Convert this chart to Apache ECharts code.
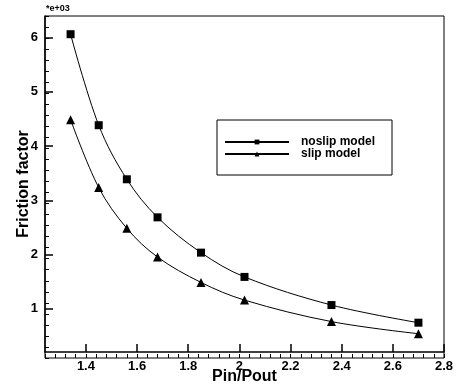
<!DOCTYPE html>
<html>
<head>
<meta charset="utf-8">
<script src="https://cdn.jsdelivr.net/npm/echarts@6/dist/echarts.min.js"></script>
<style>
  html, body { margin: 0; padding: 0; background: #fff; }
  #chart { width: 460px; height: 390px; }
</style>
</head>
<body>
<div id="chart"></div>
<script>
// pressure ratio and friction factor (x1e3)
const pressureRatio = [1.34, 1.45, 1.56, 1.68, 1.85, 2.02, 2.36, 2.70]
const noslip = [6.07, 4.42, 3.44, 2.75, 2.11, 1.67, 1.16, 0.84]
const slip = [4.52, 3.29, 2.55, 2.03, 1.57, 1.25, 0.86, 0.64]

const xTicks = [1.4, 1.6, 1.8, 2.0, 2.2, 2.4, 2.6, 2.8]
const yTicks = [1, 2, 3, 4, 5, 6]

const font = "'Liberation Sans', Arial, sans-serif"
const black = '#000'
const xRange = { min: 1.24, max: 2.8 }
const yRange = { min: 0.2, max: 6.4 }

function pairs(ys) {
  return pressureRatio.map((x, i) => [x, ys[i]])
}

const plotRect = { left: 45, right: 16, top: 16, bottom: 32 }
const hidden = { axisLine: { show: false }, axisTick: { show: false }, axisLabel: { show: false }, splitLine: { show: false } }

const chart = echarts.init(document.getElementById('chart'))

chart.setOption({
  animation: false,
  title: {
    text: '*e+03', left: 46, top: 4, padding: 0,
    textStyle: { fontFamily: font, fontSize: 9, fontWeight: 'bold', color: black }
  },
  // grid 0: frame and curves; grid 1: labels and major ticks; grid 2: minor ticks
  grid: [
    { ...plotRect, show: true, borderColor: black, backgroundColor: 'transparent' },
    { ...plotRect },
    { ...plotRect }
  ],
  legend: {
    orient: 'vertical', left: 217, top: 120,
    padding: [16, 17, 15, 7],
    borderColor: black, borderWidth: 1,
    itemWidth: 64, itemHeight: 6, itemGap: 0,
    textStyle: { fontFamily: font, fontSize: 12, fontWeight: 'bold', color: black, lineHeight: 12, padding: [0, 0, 0, 7] },
    data: ['noslip model', 'slip model']
  },
  xAxis: [{
    type: 'value', gridIndex: 0, ...xRange, ...hidden
  }, {
    type: 'value', gridIndex: 1, ...xRange,
    name: 'Pin/Pout', nameLocation: 'middle', nameGap: 17, nameMoveOverlap: false,
    nameTextStyle: { fontFamily: font, fontSize: 16, fontWeight: 'bold', color: black },
    axisLine: { show: true, lineStyle: { color: black, width: 1.5 } },
    axisTick: { show: true, inside: true, length: 8, customValues: xTicks, lineStyle: { color: black, width: 1.5 } },
    axisLabel: {
      show: true, customValues: xTicks, margin: 8,
      fontFamily: font, fontSize: 13, fontWeight: 'bold', color: black,
      formatter: v => String(Math.round(v * 10) / 10)
    },
    splitLine: { show: false }
  }, {
    type: 'value', gridIndex: 2, ...xRange, interval: 0.04,
    axisLine: { show: false },
    axisTick: { show: true, inside: true, length: 4, lineStyle: { color: black, width: 1 } },
    axisLabel: { show: false },
    splitLine: { show: false }
  }],
  yAxis: [{
    type: 'value', gridIndex: 0, ...yRange, ...hidden
  }, {
    type: 'value', gridIndex: 1, ...yRange,
    name: 'Friction factor', nameLocation: 'middle', nameGap: 13, nameMoveOverlap: false,
    nameTextStyle: { fontFamily: font, fontSize: 16, fontWeight: 'bold', color: black },
    axisLine: { show: true, lineStyle: { color: black, width: 1.5 } },
    axisTick: { show: true, inside: true, length: 8, customValues: yTicks, lineStyle: { color: black, width: 1.5 } },
    axisLabel: {
      show: true, customValues: yTicks, margin: 7,
      fontFamily: font, fontSize: 13, fontWeight: 'bold', color: black
    },
    splitLine: { show: false }
  }, {
    type: 'value', gridIndex: 2, ...yRange, interval: 0.2,
    axisLine: { show: false },
    axisTick: { show: true, inside: true, length: 4, lineStyle: { color: black, width: 1 } },
    axisLabel: { show: false },
    splitLine: { show: false }
  }],
  series: [
    {
      name: 'noslip model', type: 'line', data: pairs(noslip), smooth: 0.35,
      xAxisIndex: 0, yAxisIndex: 0,
      symbol: 'rect', symbolSize: 8,
      lineStyle: { color: black, width: 1 }, itemStyle: { color: black }
    },
    {
      name: 'slip model', type: 'line', data: pairs(slip), smooth: 0.35,
      xAxisIndex: 0, yAxisIndex: 0,
      symbol: 'triangle', symbolSize: 9,
      lineStyle: { color: black, width: 1 }, itemStyle: { color: black }
    }
  ]
})
</script>
</body>
</html>
